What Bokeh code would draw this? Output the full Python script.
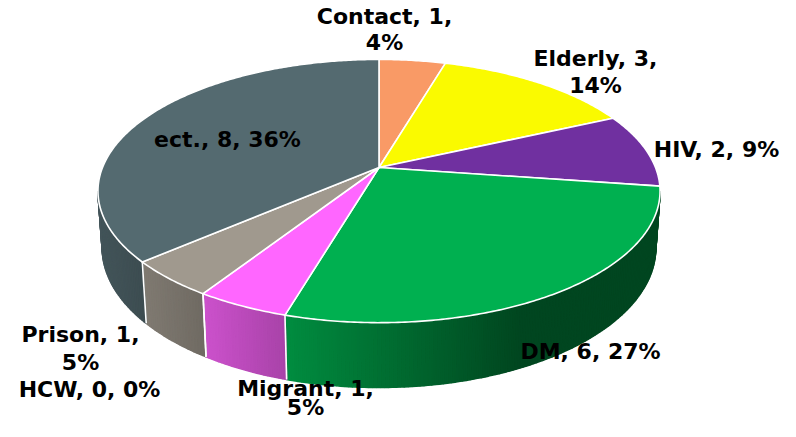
import numpy as np
from bokeh.plotting import figure
from bokeh.models import Range1d, ColumnDataSource
from bokeh.core.properties import value
from bokeh.embed import file_html
from bokeh.resources import INLINE

# ---- data ----
categories = ["Contact", "Elderly", "HIV", "DM", "Migrant", "HCW", "Prison", "ect."]
counts = [1, 3, 2, 6, 1, 0, 1, 8]
percents = [4, 14, 9, 27, 5, 0, 5, 36]

# ---- style ----
colors = ["#F99A66", "#FAFA00", "#7030A0", "#00B050", "#FF66FF", "#BFBFBF", "#A0998E", "#546A70"]
wrap_after_count = {"Contact", "Elderly", "Migrant", "Prison"}
DY = -3  # small global lift so that every label fits in the frame
label_lines_y = {  # centre x, and centre y of each line, in picture pixels
    "Contact": (384, [19, 45]), "Elderly": (595, [61, 88]), "HIV": (716, [152]),
    "DM": (590, [354]), "Migrant": (305, [391, 410]), "HCW": (89, [392]),
    "Prison": (80, [337, 365]), "ect.": (227, [142]),
}

# 3D projection parameters (picture pixels)
CX, CY = 378.5, 170.0 + DY
A, B, E, G, HZ = 276.5, 127.4, 0.179, 0.015, 56.5


def proj(theta, z):
    w = 1 + E * np.cos(theta) + G * z
    x = CX + A * np.sin(theta) / w
    y = CY + (-B * np.cos(theta) + HZ * z) / w
    return x, y


def shade(hexcol, f):
    r, g, b = (int(hexcol[i:i + 2], 16) for i in (1, 3, 5))
    return "#%02x%02x%02x" % (int(r * f), int(g * f), int(b * f))


W, H = 780, 421
p = figure(width=W, height=H, output_backend="svg", toolbar_location=None,
           x_range=Range1d(0, W), y_range=Range1d(H, 0), min_border=0)
p.axis.visible = False
p.xgrid.visible = False
p.ygrid.visible = False
p.outline_line_color = None
p.background_fill_color = "white"

total = float(sum(counts))
bounds = np.concatenate([[0], np.cumsum(counts)]) / total * 2 * np.pi
vis0, vis1 = np.arccos(-E), 2 * np.pi - np.arccos(-E)

# ---- side faces (gradient strips) ----
quads = []
for i, c in enumerate(counts):
    if c == 0:
        continue
    t0, t1 = max(bounds[i], vis0), min(bounds[i + 1], vis1)
    if t1 <= t0:
        continue
    n = max(4, int((t1 - t0) / 0.012))
    ts = np.linspace(t0, t1, n + 1)
    xs_top, _ = proj(ts, 0)
    xl = xs_top.min()
    for k in range(n):
        ta, tb = ts[k], ts[k + 1]
        xa0, ya0 = proj(ta, 0)
        xb0, yb0 = proj(tb, 0)
        xa1, ya1 = proj(ta, 1)
        xb1, yb1 = proj(tb, 1)
        xm = (xa0 + xb0) / 2
        f = max(0.4, 0.80 - 0.0017 * (xm - xl))
        col = shade(colors[i], f)
        quads.append(([xa0, xb0, xb1, xa1], [ya0, yb0, yb1, ya1], col))

src_side = ColumnDataSource(dict(xs=[q[0] for q in quads], ys=[q[1] for q in quads],
                                 fc=[q[2] for q in quads]))
p.patches("xs", "ys", source=src_side, fill_color="fc", line_color="fc", line_width=1.6)

# separators on the side
sx, sy = [], []
for t in bounds:
    if vis0 < t < vis1:
        x0, y0 = proj(t, 0)
        x1, y1 = proj(t, 1)
        sx.append([x0, x1])
        sy.append([y0, y1])
p.multi_line(sx, sy, line_color="white", line_width=1.6)

# ---- top faces ----
txs, tys, tcs = [], [], []
for i, c in enumerate(counts):
    if c == 0:
        continue
    ts = np.linspace(bounds[i], bounds[i + 1], max(8, int((bounds[i + 1] - bounds[i]) / 0.01)))
    x, y = proj(ts, 0)
    txs.append([CX] + list(x))
    tys.append([CY] + list(y))
    tcs.append(colors[i])
p.patches(txs, tys, fill_color=tcs, line_color="white", line_width=1.6, line_join="round")

# ---- labels ----
lx, ly, lt = [], [], []
for cat, cnt, pc in zip(categories, counts, percents):
    if cat in wrap_after_count:
        lines = [f"{cat}, {cnt},", f"{pc}%"]
    else:
        lines = [f"{cat}, {cnt}, {pc}%"]
    ax, ys = label_lines_y[cat]
    for ln, yy in zip(lines, ys):
        lx.append(ax)
        ly.append(yy + DY)
        lt.append(ln)
p.text(lx, ly, text=lt, text_font=value("DejaVu Sans"), text_font_style="bold",
       text_font_size="22px", text_align="center", text_baseline="middle", text_color="black")

open("out.html", "w").write(file_html(p, INLINE))
